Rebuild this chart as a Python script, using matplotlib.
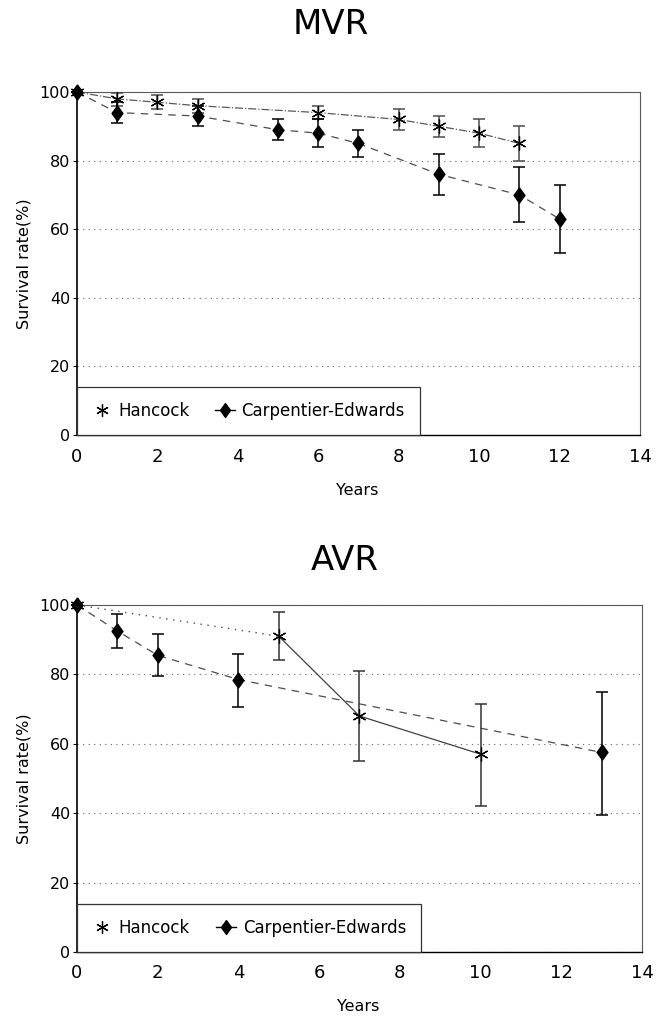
import numpy as np
import matplotlib
matplotlib.use('Agg')
import matplotlib.pyplot as plt
from matplotlib.lines import Line2D

plt.rcParams['font.family'] = ['DejaVu Sans']

# MVR survival, values in %
mvr_hk_years = [0, 1, 2, 3, 6, 8, 9, 10, 11]
mvr_hk_rate = [100, 98, 97, 96, 94, 92, 90, 88, 85]
mvr_hk_low = [100, 96, 95, 94, 92, 89, 87, 84, 80]
mvr_hk_high = [100, 99.6, 99, 98, 96, 95, 93, 92, 90]

mvr_ce_years = [0, 1, 3, 5, 6, 7, 9, 11, 12]
mvr_ce_rate = [100, 94, 93, 89, 88, 85, 76, 70, 63]
mvr_ce_low = [100, 91, 90, 86, 84, 81, 70, 62, 53]
mvr_ce_high = [100, 97, 96, 92, 92, 89, 82, 78, 73]

# AVR survival
avr_hk_years = [0, 5, 7, 10]
avr_hk_rate = [100, 91, 68, 57]
avr_hk_low = [100, 84, 55, 42]
avr_hk_high = [100, 98, 81, 71.5]

avr_ce_years = [0, 1, 2, 4, 13]
avr_ce_rate = [100, 92.5, 85.5, 78.5, 57.5]
avr_ce_low = [100, 87.5, 79.5, 70.5, 39.5]
avr_ce_high = [100, 97.5, 91.5, 86, 75]

x_ticks = [0, 2, 4, 6, 8, 10, 12, 14]
y_ticks = [0, 20, 40, 60, 80, 100]
legend_labels = ['Hancock', 'Carpentier-Edwards']

# marker shapes: 6-arm asterisk and a slightly tall diamond
ASTERISK = (6, 2, 0)
DIAMOND = [(0, 1), (0.72, 0), (0, -1), (-0.72, 0), (0, 1)]


def yerr(rate, low, high):
  rate = np.array(rate, dtype=float)
  return [rate - np.array(low), np.array(high) - rate]


def draw_errors(ax, years, rate, low, high, marker, color, ms):
  ax.errorbar(years, rate, yerr=yerr(rate, low, high), fmt='none', ecolor=color,
              elinewidth=1.1, capsize=4.5, capthick=1.1, clip_on=False, zorder=3)
  ax.plot(years, rate, ls='none', marker=marker, ms=ms, color='black',
          mec='black', mew=0.9, clip_on=False, zorder=4)


def setup_axes(ax, xlab_y):
  ax.set_xlim(0, 14)
  ax.set_ylim(0, 100)
  ax.set_xticks(x_ticks)
  ax.set_yticks(y_ticks)
  ax.tick_params(axis='x', length=0, pad=9, labelsize=13)
  ax.tick_params(axis='y', length=3, width=0.8, pad=2, labelsize=11.5)
  ax.yaxis.grid(True, ls=(0, (1, 4)), color='0.4', lw=0.8)
  ax.set_axisbelow(True)
  for side in ['top', 'right']:
    ax.spines[side].set_color('0.35')
    ax.spines[side].set_linewidth(0.8)
  ax.spines['left'].set_linewidth(1.2)
  ax.spines['bottom'].set_linewidth(1.0)
  ax.set_xlabel('Years', fontsize=11.5)
  ax.set_ylabel('Survival rate(%)', fontsize=11.5)
  ax.xaxis.set_label_coords(0.497, xlab_y)
  ax.yaxis.set_label_coords(-0.08, 0.5)
  handles = [Line2D([], [], ls='none', marker=ASTERISK, ms=9, color='black', mew=0.9),
             Line2D([], [], ls='-', lw=1.0, marker=DIAMOND, ms=10, color='black')]
  leg = ax.legend(handles, legend_labels, loc='lower left', ncol=2,
                  bbox_to_anchor=(0, 0, 0.609, 0.145), mode='expand',
                  borderaxespad=0, fontsize=12, handlelength=1.2,
                  handletextpad=0.4, borderpad=0.9, fancybox=False,
                  framealpha=1, edgecolor='0.2')
  leg.get_frame().set_linewidth(0.9)


fig = plt.figure(figsize=(6.63, 10.19), dpi=100)
ax1 = fig.add_axes([0.1161, 0.5731, 0.8492, 0.3366])
ax2 = fig.add_axes([0.1161, 0.0658, 0.8522, 0.3405])

# MVR panel
ax1.plot(mvr_hk_years, mvr_hk_rate, ls='-.', color='0.35', lw=0.9, zorder=2)
ax1.plot(mvr_ce_years, mvr_ce_rate, ls=(0, (6, 5)), color='0.3', lw=0.9, zorder=2)
draw_errors(ax1, mvr_hk_years, mvr_hk_rate, mvr_hk_low, mvr_hk_high, ASTERISK, '0.3', 10)
draw_errors(ax1, mvr_ce_years, mvr_ce_rate, mvr_ce_low, mvr_ce_high, DIAMOND, 'black', 11)
setup_axes(ax1, -0.14)

# AVR panel - Hancock dotted to year 5, solid after
ax2.plot(avr_hk_years[:2], avr_hk_rate[:2], ls=(0, (1, 4)), color='0.3', lw=1.0, zorder=2)
ax2.plot(avr_hk_years[1:], avr_hk_rate[1:], ls='-', color='0.25', lw=0.9, zorder=2)
ax2.plot(avr_ce_years, avr_ce_rate, ls=(0, (6, 5)), color='0.3', lw=0.9, zorder=2)
draw_errors(ax2, avr_hk_years, avr_hk_rate, avr_hk_low, avr_hk_high, ASTERISK, '0.2', 10)
draw_errors(ax2, avr_ce_years, avr_ce_rate, avr_ce_low, avr_ce_high, DIAMOND, 'black', 11)
setup_axes(ax2, -0.135)

fig.text(331 / 663, 1 - 25 / 1019, 'MVR', ha='center', va='center', fontsize=24.5)
fig.text(345 / 663, 1 - 561 / 1019, 'AVR', ha='center', va='center', fontsize=24.5)

plt.savefig('out.png', dpi=100)
